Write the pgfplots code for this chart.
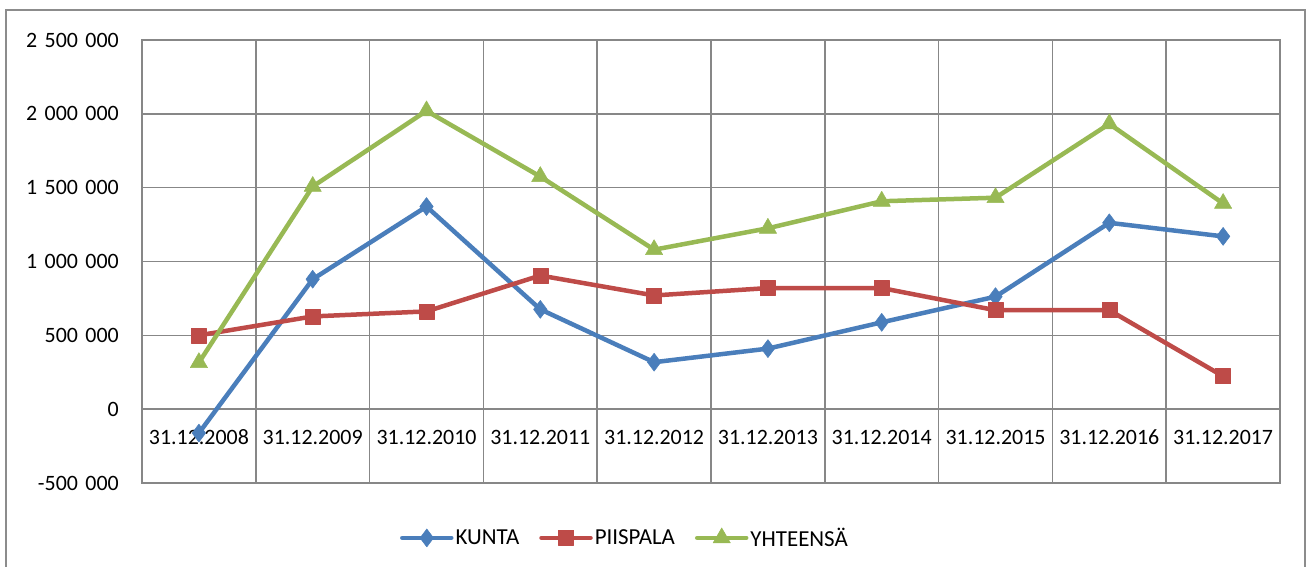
\documentclass[border=0pt]{standalone}
\usepackage{fontspec}
\setmainfont{Carlito}
\usepackage{pgfplots}
\pgfplotsset{compat=1.18}
\definecolor{kblue}{HTML}{4A7EBB}
\definecolor{kred}{HTML}{BE4B48}
\definecolor{kgreen}{HTML}{98B954}
\definecolor{gridgray}{HTML}{878787}
\definecolor{framegray}{HTML}{8C8C8C}
\newcommand{\tsp}{\hspace{7.5bp}}
\begin{document}
\begin{tikzpicture}
\useasboundingbox (0,0) rectangle (1311bp,567bp);
\draw[color=framegray, line width=1.3bp] (6bp,-10bp) rectangle (1305bp,557bp);
\begin{axis}[
  at={(142bp,84bp)}, anchor=south west,
  scale only axis, width=1138bp, height=443bp,
  xmin=-0.5, xmax=9.5, ymin=-500000, ymax=2500000,
  axis line style={gridgray, line width=1.5bp},
  major tick length=0pt, minor tick length=0pt,
  xtick={0,...,9},
  xticklabels={31.12.2008,31.12.2009,31.12.2010,31.12.2011,31.12.2012,31.12.2013,31.12.2014,31.12.2015,31.12.2016,31.12.2017},
  minor xtick={-0.5,0.5,...,9.5},
  xminorgrids=true, xmajorgrids=false,
  ytick={-500000,0,500000,1000000,1500000,2000000,2500000},
  yticklabels={-500\tsp000,0,500\tsp000,1\tsp000\tsp000,1\tsp500\tsp000,2\tsp000\tsp000,2\tsp500\tsp000},
  ymajorgrids=true,
  grid style={gridgray, line width=1.5bp},
  minor grid style={gridgray, line width=1.5bp},
  tick label style={font=\fontsize{22}{26}\selectfont, text=black},
  xticklabel style={anchor=center, inner sep=0pt, yshift=46bp},
  yticklabel style={anchor=east, inner sep=0pt, xshift=-23bp},
  scaled y ticks=false,
  clip=false,
  legend columns=3,
  legend style={draw=none, fill=none, font=\fontsize{23}{27}\selectfont,
    at={(axis description cs:0.4244,-0.124)}, anchor=center,
    /tikz/every even column/.append style={column sep=18bp},
    nodes={inner sep=2bp}},
  legend cell align=left,
  legend image code/.code={\draw[mark repeat=2,mark phase=2] plot coordinates {(0bp,0bp) (24.5bp,0bp) (49bp,0bp)};},
  every axis plot/.append style={line width=4.5bp, line cap=round, line join=round},
]
\addplot[kblue, mark=diamond*, mark size=9bp, mark options={solid, line width=0.5bp}] coordinates {
(0,-162000) (1,880000) (2,1372000) (3,676000) (4,318000) (5,410000) (6,588000) (7,762000) (8,1262000) (9,1170000)};
\addlegendentry{KUNTA}
\addplot[kred, mark=square*, mark size=7.5bp, mark options={solid, line width=0.5bp}] coordinates {
(0,500000) (1,628000) (2,662000) (3,905000) (4,770000) (5,820000) (6,820000) (7,670000) (8,670000) (9,223000)};
\addlegendentry{PIISPALA}
\addplot[kgreen, mark=triangle*, mark size=10bp, mark options={solid, line width=0.5bp}] coordinates {
(0,315000) (1,1508000) (2,2020000) (3,1575000) (4,1080000) (5,1225000) (6,1408000) (7,1432000) (8,1932000) (9,1393000)};
\addlegendentry{YHTEENSÄ}
\end{axis}
\end{tikzpicture}
\end{document}
